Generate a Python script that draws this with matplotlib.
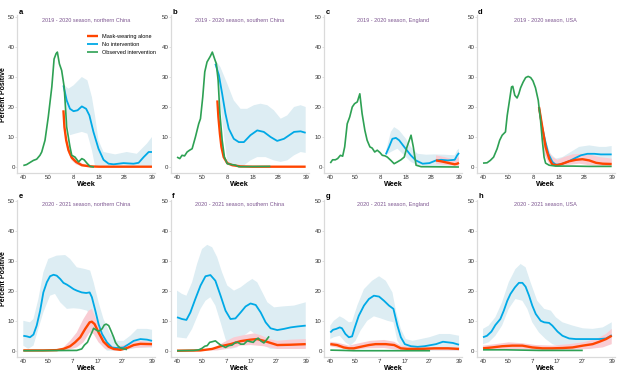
import matplotlib
matplotlib.use("Agg")
import matplotlib.pyplot as plt
import numpy as np

plt.rcParams['font.family'] = ['Liberation Sans', 'DejaVu Sans']

# week index 0 = week 40; season 2019-20 has 52 weeks, 2020-21 has 53
ticks_1920 = [0, 10, 20, 30, 40, 51]
labels_1920 = ['40', '50', '8', '18', '28', '39']
ticks_2021 = [0, 10, 20, 30, 40, 52]
labels_2021 = ['40', '50', '7', '17', '27', '39']

titles = ['2019 - 2020 season, northern China', '2019 - 2020 season, southern China',
          '2019 - 2020 season, England', '2019 - 2020 season, USA',
          '2020 - 2021 season, northern China', '2020 - 2021 season, southern China',
          '2020 - 2021 season, England', '2020 - 2021 season, USA']
letters = ['a', 'b', 'c', 'd', 'e', 'f', 'g', 'h']

# ---- a
a_obs_x = [0, 1.3, 4, 5.3, 6.6, 7.3, 8.6, 9.9, 11.3, 12.2, 13, 13.5, 14.3, 15.2, 16.2, 17.2, 18.5, 19.2, 20.5, 21.9, 23.2, 24.1, 25.4, 26.5, 28]
a_obs_y = [0.5, 0.8, 2.2, 2.6, 3.9, 5, 8.9, 16.7, 26.7, 36, 37.8, 38.3, 34.4, 32.2, 26.7, 13.3, 6.7, 3.9, 3.3, 1.7, 2.8, 2.4, 1.1, 0.2, 0]
a_none_x = [15.9, 17.2, 18.5, 19.9, 21.5, 23.2, 24.9, 26.2, 27.8, 29.8, 31.8, 33.8, 35.8, 39.7, 43.7, 45.7, 47.7, 49.7, 51]
a_none_y = [27.2, 22.2, 19.4, 18.6, 18.9, 20.2, 19.4, 17.2, 11.7, 6.1, 2.4, 1.1, 0.9, 1.3, 1.1, 1.4, 3.3, 5, 5]
a_none_up_x = [15.9, 17.9, 19.9, 23.2, 25.4, 27.2, 28.5, 29.8, 31.8, 36.4, 41, 45, 49, 51]
a_none_up_y = [27.5, 26.1, 27.2, 30, 28.9, 23.3, 16.7, 8.9, 5, 4.2, 5, 4.4, 7.8, 10]
a_none_lo_x = [15.9, 17.2, 18.5, 20.5, 23.2, 25.4, 27.2, 28.5, 51]
a_none_lo_y = [26.5, 15.6, 10.6, 11.1, 11.7, 11.1, 5.6, 0, 0]
a_mask_x = [15.9, 16.3, 17, 17.9, 19.2, 20.9, 23.2, 26.5, 30, 51]
a_mask_y = [18.9, 13.3, 8.9, 5.6, 3.1, 1.7, 0.6, 0.2, 0.1, 0.1]
a_mask_up_x = a_mask_x
a_mask_up_y = [19.5, 14.5, 10, 6.8, 4.2, 2.8, 1.2, 0.4, 0.2, 0.2]
a_mask_lo_x = a_mask_x
a_mask_lo_y = [18.3, 12, 7.8, 4.5, 2.2, 0.9, 0.2, 0, 0, 0]

# ---- b
b_obs_x = [0, 1.1, 2, 3, 4, 5, 6, 7.3, 8.6, 9.3, 10.2, 11, 11.9, 13.2, 14, 15, 15.6, 16.3, 17, 17.9, 18.8, 19.9, 21.2, 23.2, 24.5, 37]
b_obs_y = [3.3, 2.8, 3.9, 3.7, 5, 5.6, 6.1, 10, 14.4, 16.1, 23.3, 31.7, 35, 36.9, 38.3, 35.8, 34.4, 28.9, 17.8, 8.9, 3.3, 1.1, 0.9, 0.6, 0.1, 0.2]
b_none_x = [15.2, 16.6, 17.9, 19.2, 20.5, 22.5, 24.5, 26.5, 29.1, 31.8, 34.4, 37.1, 39.7, 42.4, 46.4, 49, 51]
b_none_y = [34.4, 30.6, 24.4, 17.8, 12.8, 9.4, 8.3, 8.3, 10.6, 12.2, 11.7, 10, 8.7, 9.4, 11.7, 11.9, 11.4]
b_none_up_x = [15.2, 17.2, 19.9, 22.5, 25.2, 27.8, 30.5, 33.1, 35.8, 38.4, 41.1, 43.7, 46.4, 49, 51]
b_none_up_y = [35.6, 33.3, 27.8, 22.2, 19.4, 19.4, 20.6, 21.1, 20.6, 18.9, 16.1, 17.2, 20, 20.6, 20]
b_none_lo_x = [15.2, 16.6, 17.9, 19.2, 20.1, 26.5, 29.1, 31.8, 35.1, 38.4, 41.1, 43.7, 46.4, 49, 51]
b_none_lo_y = [34, 26.7, 15.6, 6.7, 0.6, 0.5, 2.2, 3.3, 3.3, 2.2, 1.7, 2.2, 3.9, 5, 4.7]
b_mask_x = [16, 16.4, 17, 17.6, 18.5, 19.9, 21.9, 25.2, 30, 51]
b_mask_y = [22.2, 16.7, 11.1, 6.7, 3.3, 1.3, 0.6, 0.2, 0.1, 0.1]

# ---- c
c_obs_x = [0, 0.9, 2, 2.9, 4, 4.9, 5.7, 6.7, 7.7, 8.7, 9.6, 10.7, 11.7, 12.6, 13.7, 14.6, 15.7, 16.6, 17.6, 18.6, 19.7, 20.6, 21.7, 22.6, 24, 25.3, 26.6, 28, 29.3, 30.4, 31.3, 32, 32.9, 34, 36, 51]
c_obs_y = [1.3, 2.4, 2.4, 2.8, 3.9, 3.6, 6.7, 14.4, 16.7, 20, 21.1, 21.7, 24.4, 17.8, 12.2, 8.9, 6.7, 6.3, 5, 5.6, 4.8, 3.9, 3.7, 3.3, 2.2, 1.1, 1.7, 2.4, 3.3, 6.7, 8.9, 10.6, 6.7, 0.6, 0.1, 0]
c_none_x = [22, 23.3, 24.6, 26, 27.3, 29.3, 31.9, 33.9, 36.6, 39.3, 41.9, 43.9, 46.6, 49.3, 50.3, 51]
c_none_y = [4.2, 6.7, 9.4, 9.7, 8.9, 6.7, 3.9, 2.2, 1.1, 1.3, 2.2, 2.4, 2.2, 2.4, 3.9, 4.7]
c_none_up_x = [22, 24, 25.3, 27.3, 30, 31.9, 34.6, 38, 41.3, 45.3, 49.3, 50.3, 51]
c_none_up_y = [5, 11.7, 13.3, 12.2, 9.4, 6.7, 4.4, 4.1, 4.2, 4.1, 3.9, 5.6, 6.1]
c_none_lo_x = [22, 24, 26.6, 29.3, 31.9, 34.6, 38.6, 43.9, 49.3, 51]
c_none_lo_y = [3.9, 5, 6.1, 3.9, 1.7, 0.6, 0.3, 0.3, 0.6, 2.2]
c_mask_x = [41.9, 43.9, 46.6, 49.3, 50.3, 51]
c_mask_y = [2.2, 1.9, 1.4, 0.9, 1.1, 1.4]
c_mask_up_x = [41.9, 45.3, 49.3, 51]
c_mask_up_y = [3.9, 3.3, 2.4, 3.3]
c_mask_lo_x = [41.9, 46.6, 51]
c_mask_lo_y = [1.1, 0.6, 0.3]

# ---- d
d_obs_x = [0, 1.6, 2.9, 4.2, 5.6, 6.6, 7.6, 8.9, 9.6, 10.5, 11.3, 11.8, 12.6, 13.5, 14.2, 14.9, 15.9, 16.9, 17.9, 18.9, 19.8, 20.8, 21.9, 22.8, 23.5, 24.2, 24.8, 26.2, 28.8, 35.5, 42, 51]
d_obs_y = [1.3, 1.4, 2.2, 3.3, 6.1, 8.9, 10.6, 11.7, 17.2, 22.2, 26.7, 26.9, 23.9, 23, 24.4, 26.4, 28.3, 29.8, 30.2, 29.8, 28.7, 26.4, 22.2, 15.6, 8.9, 3.3, 1.3, 0.6, 0.3, 0.3, 0.2, 0.2]
d_none_x = [22.2, 23.2, 24.6, 25.9, 27.5, 28.8, 30.8, 33.5, 36.1, 38.8, 41.4, 44.1, 46.7, 51]
d_none_y = [20, 14.4, 8.9, 4.4, 1.7, 0.8, 0.9, 1.7, 2.8, 3.9, 4.4, 4.4, 4.2, 4.2]
d_none_up_x = [23.2, 24.2, 26.8, 28.8, 31.5, 34.8, 38.1, 42.1, 46.1, 48.7, 51]
d_none_up_y = [14.4, 10, 4.4, 2.8, 3.3, 5, 6.7, 7.2, 6.7, 6.7, 7]
d_none_lo_x = [23.2, 24.2, 26.8, 28.8, 32, 35, 38.1, 42.1, 46.1, 51]
d_none_lo_y = [14.4, 7, 1.5, 0.3, 0.5, 1.3, 1.6, 1.7, 1.5, 1.4]
d_mask_x = [22.2, 23.5, 24.8, 26.2, 27.5, 29.5, 31.5, 34.1, 36.8, 39.4, 42.1, 44.8, 47.4, 51]
d_mask_y = [20, 13.3, 6.7, 2.8, 0.8, 0.6, 1.1, 1.9, 2.4, 2.6, 2.2, 1.4, 1.1, 1]
d_mask_up_x = [23.5, 24.2, 25.5, 27.5, 29.5, 32.1, 35.5, 38.8, 42.1, 46.1, 51]
d_mask_up_y = [13.3, 8.9, 6.1, 3.3, 2.4, 3.3, 4.2, 4.4, 4.2, 3.3, 2.8]
d_mask_lo_x = [23.5, 24.2, 26.2, 28.8, 32.8, 38.1, 42.1, 51]
d_mask_lo_y = [13.3, 4.4, 1.1, 0.2, 0.6, 1.1, 0.6, 0.2]

# ---- e
e_obs_x = [0, 21.6, 23.6, 24.7, 25.9, 26.8, 27.7, 28.4, 29.3, 30.4, 31.8, 32.7, 33.5, 34.5, 35.4, 36.5, 37.2, 38.1, 39.2, 40.5, 41.9]
e_obs_y = [0, 0.1, 0.6, 1.9, 2.8, 4.5, 6.1, 7.5, 7, 6.5, 7.3, 8.6, 8.9, 8.4, 6.7, 4.5, 2.8, 1.7, 0.9, 0.6, 0.4]
e_none_x = [0, 1.4, 2.7, 4.1, 5.4, 6.8, 8.1, 9.5, 10.8, 12.2, 13.5, 14.9, 16.2, 17.6, 18.9, 20.3, 21.6, 23.6, 25.4, 26.8, 27.7, 29.1, 30.4, 31.8, 33.8, 35.8, 37.8, 40.5, 42.6, 44.6, 47.3, 50, 52]
e_none_y = [5, 4.8, 4.5, 5.4, 8.4, 13.4, 19.5, 22.9, 24.9, 25.4, 25.1, 24, 22.7, 22.1, 21.4, 20.6, 20.1, 19.5, 19.3, 19.5, 17.9, 13.4, 8.9, 5.6, 2.8, 1.1, 0.9, 1.1, 2.2, 3.3, 3.9, 3.7, 3.3]
e_none_up_x = [0, 2.7, 4.1, 6.1, 8.1, 10.1, 13.5, 16.9, 18.9, 21.6, 25, 27, 28.4, 30.4, 32.4, 35.1, 37.8, 40.5, 43.2, 46, 50, 52]
e_none_up_y = [10, 9.5, 10.6, 17.3, 26.2, 30.7, 31.8, 32, 30.7, 27.9, 27.3, 26.8, 22.9, 16.2, 10.6, 5.6, 3.3, 3.3, 5, 7.3, 7.3, 7]
e_none_lo_x = [0, 2, 4.1, 6.1, 8.1, 10.8, 12.8, 14.9, 17.6, 20.3, 23, 25.7, 27.7, 29.7, 31.8, 33.8, 40, 46, 52]
e_none_lo_y = [1.7, 0.6, 1.7, 7.3, 12.8, 18.4, 19, 16.2, 14, 14.2, 14, 13.4, 11.2, 5.6, 1.7, 0, 0, 1, 1]
e_mask_x = [0, 8.1, 13.5, 16.2, 18.9, 20.9, 23, 25, 26.8, 27.7, 28.8, 30.4, 32.4, 34.5, 36.5, 39.2, 41.9, 44.6, 47.3, 52]
e_mask_y = [0.1, 0.1, 0.2, 0.6, 1.5, 2.8, 4.5, 7.3, 9.5, 9.7, 8.9, 6.1, 3, 1.3, 0.6, 0.3, 0.9, 1.9, 2.3, 2.2]
e_mask_up_x = [0, 13, 16.2, 18.9, 21.6, 24.3, 26.4, 27.7, 29.1, 31.1, 33.8, 36.5, 41.9, 45.9, 52]
e_mask_up_y = [0.3, 0.4, 1.1, 3.3, 6.1, 10.6, 13.4, 14, 11.2, 7.3, 2.8, 1.1, 2.2, 3.3, 3]
e_mask_lo_x = [0, 17.6, 21.6, 24.3, 26.8, 28.4, 30.4, 33.1, 37, 44.6, 52]
e_mask_lo_y = [0, 0.1, 1.1, 2.8, 6.1, 5.6, 2.8, 0.6, 0, 0.9, 1.3]

# ---- f
f_obs_x = [0, 6.8, 8.8, 10.1, 11.2, 12.2, 13.2, 14.2, 15.5, 16.5, 17.6, 18.6, 19.6, 20.9, 22.3, 23.6, 24.6, 25.7, 27, 28.4, 29.7, 30.8, 31.8, 32.8, 33.8, 35.1, 36.2, 37.2]
f_obs_y = [0, 0.1, 0.3, 0.8, 1.5, 1.7, 2.8, 3, 3.3, 2.6, 1.9, 1.5, 1.1, 1.7, 1.9, 2.8, 2.8, 2.2, 2.2, 3.3, 3, 2.8, 3.7, 4.2, 3.3, 2.6, 3.7, 4.8]
f_none_x = [0, 2, 3.8, 5.4, 7.4, 9.5, 11.5, 13.5, 15.5, 17.6, 19.6, 21.6, 23.6, 25.7, 27.7, 29.7, 31.8, 33.8, 35.8, 37.8, 40.5, 43.2, 45.9, 48.6, 52]
f_none_y = [11.2, 10.6, 10.3, 12.8, 17.3, 21.8, 24.9, 25.3, 23.4, 18.4, 13.4, 10.6, 10.8, 12.8, 14.8, 15.8, 15.3, 12.8, 9.5, 7.5, 6.9, 7.3, 7.8, 8.1, 8.4]
f_none_up_x = [0, 2, 3.8, 6.1, 8.1, 10.1, 12.2, 14.2, 16.2, 18.2, 20.3, 23, 25.7, 28.4, 30.4, 32.4, 34.5, 36.5, 39.2, 42.6, 47.3, 52]
f_none_up_y = [20.1, 19, 18.4, 22.9, 29, 34, 35.4, 34.6, 31.3, 26.2, 21.8, 20.1, 21.2, 22.9, 24, 22.9, 19.5, 16.2, 14.5, 14.8, 15.1, 16.2]
f_none_lo_x = [0, 3.8, 6.1, 9.5, 11.5, 13.5, 15.5, 17.6, 19.6, 21.6, 24.3, 27, 29.7, 32.4, 35.1, 37.8, 43.2, 52]
f_none_lo_y = [4.5, 4.1, 7.3, 14, 16.7, 17.9, 15.1, 9.5, 3.9, 0.6, 1.1, 5, 6.7, 5, 1.7, 0.6, 0.6, 0.8]
f_mask_x = [0, 9.5, 14.2, 17.6, 21.6, 25.7, 29.7, 32.4, 35.1, 37.8, 40.5, 45.9, 52]
f_mask_y = [0, 0.1, 0.6, 1.5, 2.2, 3.2, 3.7, 3.9, 3.3, 2.6, 1.9, 2, 2.2]
f_mask_up_x = [0, 10, 14.9, 18.9, 23, 27, 31.1, 33.8, 37.2, 40.5, 45.9, 52]
f_mask_up_y = [0.2, 0.3, 0.8, 2.8, 4.5, 5.2, 5.8, 5.2, 3.9, 3.3, 3.7, 3.9]
f_mask_lo_x = [0, 16.2, 21.6, 25.7, 29.7, 35.1, 40.5, 52]
f_mask_lo_y = [0, 0.1, 0.8, 1.7, 1.9, 1.5, 0.6, 0.6]

# ---- g
g_obs_x = [0, 5.4, 9.5, 40.3]
g_obs_y = [0.2, 0.1, 0, 0]
g_none_x = [0, 1.1, 2.4, 3.8, 4.7, 6.1, 7.5, 8.8, 9.9, 11.5, 13.6, 15.6, 17.6, 19.7, 21.7, 23.7, 25.5, 27.1, 28.5, 30.1, 32.6, 35.3, 38, 40.7, 42.7, 45.5, 47.5, 49.5, 52]
g_none_y = [6.1, 7, 7.3, 7.8, 7.5, 5.6, 4.5, 4.8, 7.8, 11.7, 15.1, 17.3, 18.4, 18.1, 16.7, 15.1, 14, 8.4, 4.5, 2.2, 1.5, 1.3, 1.5, 1.9, 2.2, 3, 2.8, 2.6, 2]
g_none_up_x = [0, 1.4, 3.8, 5.4, 7.5, 8.8, 10.9, 13.6, 16.9, 19.7, 22.4, 25.1, 26.5, 28.5, 30.5, 33.2, 36.6, 40, 44.1, 48.2, 52]
g_none_up_y = [8.4, 10, 11.5, 10.8, 9.5, 9.7, 15.1, 20.6, 23.4, 24.9, 23.4, 19.5, 13.4, 7.3, 3.9, 3.3, 3.9, 4.5, 5.6, 5.6, 5]
g_none_lo_x = [0, 1.4, 3.8, 6.1, 8.1, 10.2, 12.2, 14.9, 17.6, 20.4, 23.1, 25.5, 27.1, 29.2, 35.3, 52]
g_none_lo_y = [3.9, 4.5, 5, 2.8, 1.7, 3.3, 6.7, 10, 11.5, 10.8, 10, 9.5, 3.3, 0.6, 0, 0]
g_mask_x = [0, 2.7, 5.4, 7.5, 9.5, 12.2, 15.6, 18.3, 22.4, 25.8, 28.5, 31.2, 36.6, 42.1, 47.5, 52]
g_mask_y = [2.2, 1.9, 1.1, 0.8, 0.8, 1.3, 1.9, 2.2, 2.2, 1.9, 0.8, 0.6, 0.6, 0.8, 0.8, 0.6]
g_mask_up_x = [0, 3.4, 7.5, 12.2, 16.3, 21.7, 25.8, 28.5, 33.9, 52]
g_mask_up_y = [3, 2.6, 1.7, 2.6, 3.3, 3.6, 3, 1.7, 1.1, 1.1]
g_mask_lo_x = [0, 5.4, 9.5, 14.9, 21.7, 27.1, 52]
g_mask_lo_y = [1.5, 0.6, 0.3, 0.8, 0.9, 0.3, 0.1]

# ---- h
h_obs_x = [0, 9.1, 15.9, 22.6, 40.3]
h_obs_y = [0.3, 0.3, 0.2, 0.1, 0.1]
h_none_x = [0, 1.6, 3.4, 5, 7, 8.4, 9.8, 11.1, 12.9, 14.5, 15.9, 17.2, 18.6, 19.9, 21.3, 23.3, 24.7, 26.7, 28, 30.1, 32.1, 34.8, 37.5, 40.9, 44.3, 47, 49.7, 52]
h_none_y = [4.5, 5, 6.4, 8.6, 10.6, 13.4, 16.7, 19, 21.2, 22.7, 22.7, 21.4, 18.4, 15.1, 12.3, 10, 9.5, 9.3, 8.4, 6.4, 5, 4.1, 3.9, 3.9, 3.9, 3.9, 4.1, 5.2]
h_none_up_x = [0, 2.3, 5, 7.7, 10.4, 13.1, 15.2, 17.2, 19.2, 21.9, 24.7, 27.4, 29.4, 32.1, 36.2, 40.3, 44.3, 48.4, 52]
h_none_up_y = [7.3, 8.4, 11.2, 16.2, 22.9, 27.3, 29, 27.9, 22.9, 16.7, 14, 13.4, 11.2, 9.5, 8.4, 7.5, 7.3, 7.8, 9.5]
h_none_lo_x = [0, 2.3, 5, 7.7, 10.4, 13.1, 15.9, 17.9, 19.9, 22.6, 25.3, 28, 32.1, 37.5, 42.9, 48.4, 52]
h_none_lo_y = [2.2, 2.8, 5, 8.4, 14, 17.3, 16.7, 14, 9.5, 6.1, 3.9, 2.2, 1.1, 0.6, 0.6, 1.7, 3.9]
h_mask_x = [0, 3.7, 7.7, 11.8, 15.9, 19.9, 24, 28, 32.1, 36.2, 40.3, 44.3, 47, 49.7, 52]
h_mask_y = [0.8, 1.1, 1.5, 1.7, 1.7, 1.1, 0.8, 0.8, 0.9, 1.1, 1.7, 2.2, 3, 3.9, 5]
h_mask_up_x = [0, 5, 10.4, 15.9, 21.3, 28, 34.8, 40.3, 45.7, 49.7, 52]
h_mask_up_y = [1.7, 2.2, 2.8, 2.5, 1.9, 1.7, 2.2, 2.8, 3.9, 5.6, 7.3]
h_mask_lo_x = [0, 9.1, 22.6, 33.5, 42.9, 48.4, 52]
h_mask_lo_y = [0.2, 0.6, 0.2, 0.2, 0.6, 1.1, 2.2]

g = globals()

RED = "#FF4500"
BLUE = "#00A9E6"
GREEN = "#2EA154"
BLUE_BAND = "#DDEDF3"
PINK_BAND = "#F9CCD3"
SPINE = "#DADADA"
TITLE_C = "#7E5791"

fig = plt.figure(figsize=(6.24, 3.74), dpi=100)
W, H = 624.0, 374.0
col_left = [17, 170.7, 324, 476.7]
row_bottom = [173, 356.7]
row_top = [15.5, 199.7]
ax_w = 138

for i, letter in enumerate(letters):
    r, c = divmod(i, 4)
    ax_h = row_bottom[r] - row_top[r]
    ax = fig.add_axes([col_left[c] / W, 1 - row_bottom[r] / H, ax_w / W, ax_h / H])

    def band(name, color):
        if letter + name + '_up_x' in g:
            ux, uy = g[letter + name + '_up_x'], g[letter + name + '_up_y']
            lx, ly = g[letter + name + '_lo_x'], g[letter + name + '_lo_y']
            ax.fill(list(ux) + list(lx)[::-1], list(uy) + list(ly)[::-1],
                    color=color, lw=0, zorder=1)

    band('_none', BLUE_BAND)
    band('_mask', PINK_BAND)
    ax.plot(g[letter + '_none_x'], g[letter + '_none_y'], color=BLUE, lw=1.3,
            zorder=3, label='No intervention', solid_capstyle='butt')
    ax.plot(g[letter + '_mask_x'], g[letter + '_mask_y'], color=RED, lw=1.7,
            zorder=4, label='Mask-wearing alone', solid_capstyle='butt')
    ax.plot(g[letter + '_obs_x'], g[letter + '_obs_y'], color=GREEN, lw=1.2,
            zorder=5, label='Observed intervention', solid_capstyle='butt')

    if r == 0:
        ax.set_xlim(-2.5, 52.2)
        ax.set_xticks(ticks_1920)
        ax.set_xticklabels(labels_1920)
    else:
        ax.set_xlim(-2.55, 53.2)
        ax.set_xticks(ticks_2021)
        ax.set_xticklabels(labels_2021)
    ax.set_ylim(-2, 50.5)
    ax.set_yticks([0, 10, 20, 30, 40, 50])

    for s in ['top', 'right']:
        ax.spines[s].set_visible(False)
    for s in ['left', 'bottom']:
        ax.spines[s].set_color(SPINE)
        ax.spines[s].set_linewidth(0.9)
    ax.tick_params(axis='both', labelsize=4.4, labelcolor='#333333', pad=0.6,
                   length=1.1, width=0.6, color=SPINE)
    ax.set_facecolor('none')

    ax.set_xlabel('Week', fontsize=5.2, fontweight='bold')
    ax.xaxis.set_label_coords(0.5, -11.5 / ax_h)
    ax.xaxis.label.set_verticalalignment('center')
    if c == 0:
        ax.set_ylabel('Percent Positive', fontsize=5, fontweight='bold')
        ax.yaxis.set_label_coords(-13.3 / ax_w, 0.5)
        ax.yaxis.label.set_verticalalignment('center')

    ax.text(0.5, 0.971, titles[i], transform=ax.transAxes, ha='center', va='center',
            fontsize=4, color=TITLE_C)
    ax.text(0.01, 1.02, letter, transform=ax.transAxes, ha='left', va='center',
            fontsize=5.5, fontweight='bold')

    if letter == 'a':
        hnd, lab = ax.get_legend_handles_labels()
        order = [1, 0, 2]
        ax.legend([hnd[k] for k in order], [lab[k] for k in order],
                  loc='upper left', bbox_to_anchor=(0.505, 0.885), frameon=False,
                  fontsize=4, handlelength=2.0, handletextpad=0.8,
                  labelspacing=0.55, borderpad=0, borderaxespad=0)

fig.savefig('out.png', dpi=100)
